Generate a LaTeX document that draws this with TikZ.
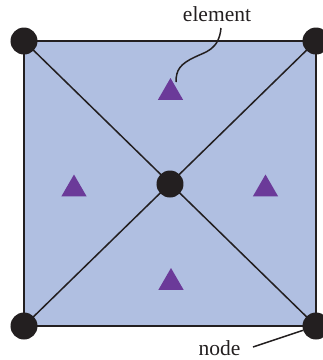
\documentclass[tikz,border=0pt]{standalone}
\usepackage{fontspec}
\setmainfont{Liberation Serif}
\usetikzlibrary{shapes.geometric}
\definecolor{fillblue}{HTML}{B0BFE1}
\definecolor{tripurple}{HTML}{6B3A99}
\definecolor{nodeblack}{HTML}{231F20}
\begin{document}
\begin{tikzpicture}[x=1pt,y=-1pt,
  meshnode/.style={circle,fill=nodeblack,inner sep=0pt,minimum size=27pt},
  elemtri/.style={regular polygon,regular polygon sides=3,fill=tripurple,inner sep=0pt,minimum size=29pt},
  edge/.style={draw=nodeblack,line width=1.8pt},
  lbl/.style={font=\fontsize{21.5}{24}\selectfont,text=nodeblack,inner sep=0pt,anchor=base}]
\useasboundingbox (0,0) rectangle (323,360);
\fill[fillblue] (24,41) rectangle (316,326);
\coordinate (tl) at (24,41);
\coordinate (tr) at (316,41);
\coordinate (bl) at (24,326);
\coordinate (br) at (316,326);
\coordinate (c) at (170,184);
\draw[edge] (tl) -- (tr) -- (br) -- (bl) -- cycle;
\draw[edge,line width=1.5pt] (tl) -- (br);
\draw[edge,line width=1.5pt] (tr) -- (bl);
\node[meshnode] (ntl) at (tl) {};
\node[meshnode] (ntr) at (tr) {};
\node[meshnode] (nbl) at (bl) {};
\node[meshnode] (nbr) at (br) {};
\node[meshnode] (nc) at (c) {};
\node[elemtri] (et) at (170.5,92.5) {};
\node[elemtri] (el) at (74,189) {};
\node[elemtri] (er) at (265.5,189) {};
\node[elemtri] (eb) at (171,282.5) {};
\node[lbl] (elabel) at (217,21.5) {element};
\node[lbl] (nlabel) at (219.5,355) {node};
\coordinate (estart) at (221,28);
\coordinate (eend) at (176,82);
\coordinate (nstart) at (253,347);
\draw[edge,line width=1.5pt] (estart) .. controls (219,50) and (205,52) .. (195,57) .. controls (180,64) and (176,70) .. (eend);
\draw[edge,line width=1.5pt] (nstart) -- (nbr);
\end{tikzpicture}
\end{document}
